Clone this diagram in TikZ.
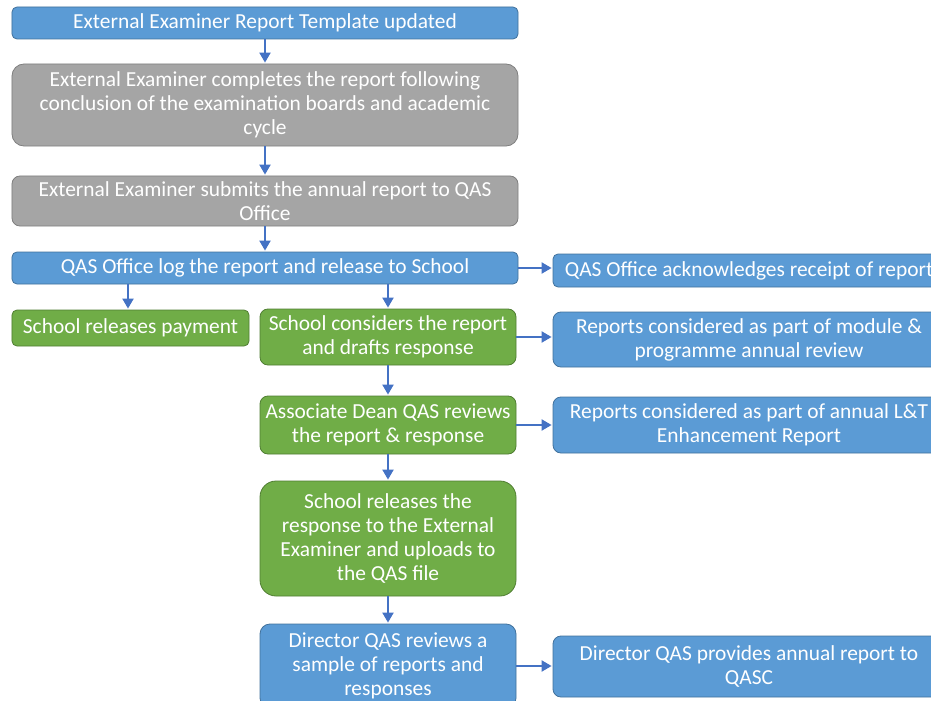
\documentclass[tikz,border=0pt]{standalone}
\usepackage{fontspec}
\setmainfont{Carlito}
\usepackage{tikz}
\usetikzlibrary{positioning, arrows.meta}
\usepackage{xcolor}

\definecolor{qasblue}{HTML}{5B9BD5}
\definecolor{qasblueline}{HTML}{41719C}
\definecolor{qasgrey}{HTML}{A5A5A5}
\definecolor{qasgreyline}{HTML}{7F7F7F}
\definecolor{qasgreen}{HTML}{70AD47}
\definecolor{qasgreenline}{HTML}{507E32}
\definecolor{qasarrow}{HTML}{4472C4}

\tikzset{
  flow/.style={rectangle, rounded corners=5bp, line width=0.8bp, text=white,
    align=center, inner sep=2bp, font=\fontsize{21.5}{24}\selectfont},
  bluebox/.style={flow, fill=qasblue, draw=qasblueline},
  greybox/.style={flow, fill=qasgrey, draw=qasgreyline},
  greenbox/.style={flow, fill=qasgreen, draw=qasgreenline},
  wide/.style={minimum width=506bp},
  mid/.style={minimum width=256bp},
  side/.style={minimum width=392bp},
  link/.style={-{Triangle[width=11bp,length=10bp]}, line width=2bp, draw=qasarrow, shorten >=1bp}
}

\begin{document}
\begin{tikzpicture}[x=1bp, y=-1bp]
      \clip (0,0) rectangle (931,701);

      % main column
      \node[bluebox, wide, minimum height=32bp] (top) at (265,23) {External Examiner Report Template updated};
      \node[greybox, wide, minimum height=82bp, rounded corners=12bp] (complete) at (265,105)
        {External Examiner completes the report following\\conclusion of the examination boards and academic\\cycle};
      \node[greybox, wide, minimum height=50bp, rounded corners=8bp] (submit) at (265,201)
        {External Examiner submits the annual report to QAS\\Office};
      \node[bluebox, wide, minimum height=32bp] (logrep) at (265,268) {QAS Office log the report and release to School};
      \node[bluebox, side, minimum height=33bp] (ack) at (749,270.5) {QAS Office acknowledges receipt of report};

      % school
      \node[greenbox, minimum width=237bp, minimum height=36bp] (payment) at (130.5,328) {School releases payment};
      \node[greenbox, mid, minimum height=56bp, rounded corners=8bp] (consider) at (388,337)
        {School considers the report\\and drafts response};
      \node[bluebox, side, minimum height=55bp, rounded corners=8bp] (module) at (749,339.5)
        {Reports considered as part of module \&\\programme annual review};
      \node[greenbox, mid, minimum height=58bp, rounded corners=8bp] (dean) at (388,425)
        {Associate Dean QAS reviews\\the report \& response};
      \node[bluebox, side, minimum height=56bp, rounded corners=8bp] (ltreport) at (749,425)
        {Reports considered as part of annual L\&T\\Enhancement Report};
      \node[greenbox, mid, minimum height=115bp, rounded corners=16bp] (release) at (388,538.5)
        {School releases the\\response to the External\\Examiner and uploads to\\the QAS file};

      % director
      \node[bluebox, mid, minimum height=84bp, rounded corners=10bp] (sample) at (388,666)
        {Director QAS reviews a\\sample of reports and\\responses};
      \node[bluebox, side, minimum height=61bp, rounded corners=8bp] (annual) at (749,666.5)
        {Director QAS provides annual report to\\QASC};

      % arrows
      \draw[link] (top) -- (complete);
      \draw[link] (complete) -- (submit);
      \draw[link] (submit) -- (logrep);
      \draw[link] (logrep.south -| 128,0) -- (payment.north -| 128,0);
      \draw[link] (logrep.south -| consider.north) -- (consider.north);
      \draw[link] (logrep.east) -- (logrep.east -| ack.west);
      \draw[link] (consider.east) -- (consider.east -| module.west);
      \draw[link] (consider) -- (dean);
      \draw[link] (dean.east) -- (dean.east -| ltreport.west);
      \draw[link] (dean) -- (release);
      \draw[link] (release) -- (sample);
      \draw[link] (sample.east) -- (sample.east -| annual.west);
    \end{tikzpicture}
\end{document}
